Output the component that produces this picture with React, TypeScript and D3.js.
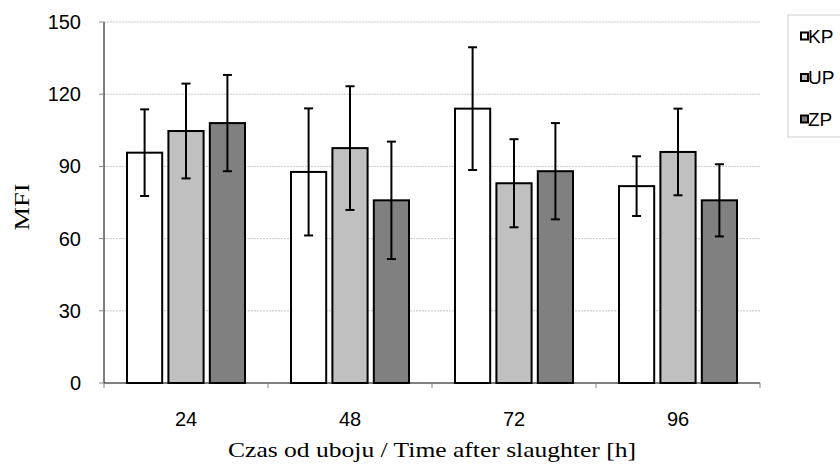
import React, { useEffect, useRef } from "react";
import * as d3 from "d3";

const hours = ["24", "48", "72", "96"];
const groups = ["KP", "UP", "ZP"];
const kpMean = [95.7, 87.7, 114, 81.8];
const kpSd = [18, 26.4, 25.5, 12.4];
const upMean = [104.7, 97.6, 83, 96];
const upSd = [19.7, 25.7, 18.3, 18];
const zpMean = [108, 75.9, 88, 75.9];
const zpSd = [20, 24.4, 20, 15];
const yTicks = [0, 30, 60, 90, 120, 150];
const fills = ["#ffffff", "#c0c0c0", "#808080"];

export default function App() {
  const ref = useRef<SVGSVGElement | null>(null);

  useEffect(() => {
    const svg = d3.select(ref.current);
    svg.selectAll("*").remove();

    const margin = { top: 22, left: 104, right: 80, bottom: 86 };
    const W = 840, H = 469;
    const width = W - margin.left - margin.right;
    const height = H - margin.top - margin.bottom;

    const means = [kpMean, upMean, zpMean];
    const sds = [kpSd, upSd, zpSd];

    const x0 = d3.scaleBand().domain(hours).range([0, width]).paddingInner(0).paddingOuter(0);
    const x1 = d3.scaleBand().domain(groups).range([23, x0.bandwidth() - 23]).paddingInner(0.15);
    const y = d3.scaleLinear().domain([0, 150]).range([height, 0]);

    const g = svg.append("g").attr("transform", "translate(" + margin.left + "," + margin.top + ")");

    // grid
    g.selectAll(".grid")
      .data(yTicks.filter((t) => t > 0))
      .enter()
      .append("line")
      .attr("x1", 0)
      .attr("x2", width)
      .attr("y1", (d) => y(d))
      .attr("y2", (d) => y(d))
      .attr("stroke", "#c8c8c8")
      .attr("stroke-width", 1)
      .attr("stroke-dasharray", "2,1");

    // bars
    hours.forEach((h, i) => {
      groups.forEach((k, j) => {
        const bx = x0(h)! + x1(k)!;
        const bw = x1.bandwidth();
        g.append("rect")
          .attr("x", bx)
          .attr("y", y(means[j][i]))
          .attr("width", bw)
          .attr("height", height - y(means[j][i]))
          .attr("fill", fills[j])
          .attr("stroke", "#000")
          .attr("stroke-width", 2);
        const cx = bx + bw / 2;
        const top = y(means[j][i] + sds[j][i]);
        const bot = y(means[j][i] - sds[j][i]);
        g.append("line").attr("x1", cx).attr("x2", cx).attr("y1", top).attr("y2", bot)
          .attr("stroke", "#000").attr("stroke-width", 2);
        [top, bot].forEach((yy) => {
          g.append("line").attr("x1", cx - 4.5).attr("x2", cx + 4.5).attr("y1", yy).attr("y2", yy)
            .attr("stroke", "#000").attr("stroke-width", 2);
        });
      });
    });

    // y axis
    g.append("line").attr("x1", 0).attr("x2", 0).attr("y1", 0).attr("y2", height)
      .attr("stroke", "#000").attr("stroke-width", 1);
    yTicks.forEach((t) => {
      g.append("line").attr("x1", -5).attr("x2", 0).attr("y1", y(t)).attr("y2", y(t))
        .attr("stroke", "#888");
      g.append("text")
        .attr("x", -23)
        .attr("y", y(t))
        .attr("dy", "0.35em")
        .attr("text-anchor", "end")
        .style("font-family", "Liberation Sans, Arial, sans-serif")
        .style("font-size", "20px")
        .text(t);
    });

    // x axis
    g.append("line").attr("x1", 0).attr("x2", width).attr("y1", height).attr("y2", height)
      .attr("stroke", "#000").attr("stroke-width", 1);
    [0, ...hours.map((h) => x0(h)! + x0.bandwidth())].forEach((xx) => {
      g.append("line").attr("x1", xx).attr("x2", xx).attr("y1", height).attr("y2", height + 5)
        .attr("stroke", "#888");
    });
    hours.forEach((h) => {
      g.append("text")
        .attr("x", x0(h)! + x0.bandwidth() / 2)
        .attr("y", height + 36)
        .attr("dy", "0.35em")
        .attr("text-anchor", "middle")
        .style("font-family", "Liberation Sans, Arial, sans-serif")
        .style("font-size", "20px")
        .text(h);
    });

    // axis titles
    svg.append("text")
      .attr("transform", "translate(29,207) rotate(-90)")
      .attr("text-anchor", "middle")
      .attr("textLength", 47)
      .attr("lengthAdjust", "spacingAndGlyphs")
      .style("font-family", "Liberation Serif, Times New Roman, serif")
      .style("font-size", "21px")
      .text("MFI");
    svg.append("text")
      .attr("x", 432)
      .attr("y", 457)
      .attr("text-anchor", "middle")
      .attr("textLength", 408)
      .attr("lengthAdjust", "spacingAndGlyphs")
      .style("font-family", "Liberation Serif, Times New Roman, serif")
      .style("font-size", "21px")
      .text("Czas od uboju / Time after slaughter [h]");

    // legend
    const lg = svg.append("g").attr("transform", "translate(788,15)");
    lg.append("rect").attr("x", 0).attr("y", 0).attr("width", 60).attr("height", 122)
      .attr("fill", "#fff").attr("stroke", "#d0d0d0");
    groups.forEach((k, j) => {
      const yy = 21 + j * 41.5;
      lg.append("rect").attr("x", 13).attr("y", yy - 3.5).attr("width", 7).attr("height", 7)
        .attr("fill", fills[j]).attr("stroke", "#000").attr("stroke-width", 2);
      lg.append("text").attr("x", 20).attr("y", yy).attr("dy", "0.35em")
        .style("font-family", "Liberation Sans, Arial, sans-serif")
        .style("font-size", "19px")
        .text(k);
    });
  }, []);

  return (
    <svg ref={ref} width={840} height={469} style={{ position: "absolute", left: 0, top: 0, background: "#fff" }} />
  );
}
